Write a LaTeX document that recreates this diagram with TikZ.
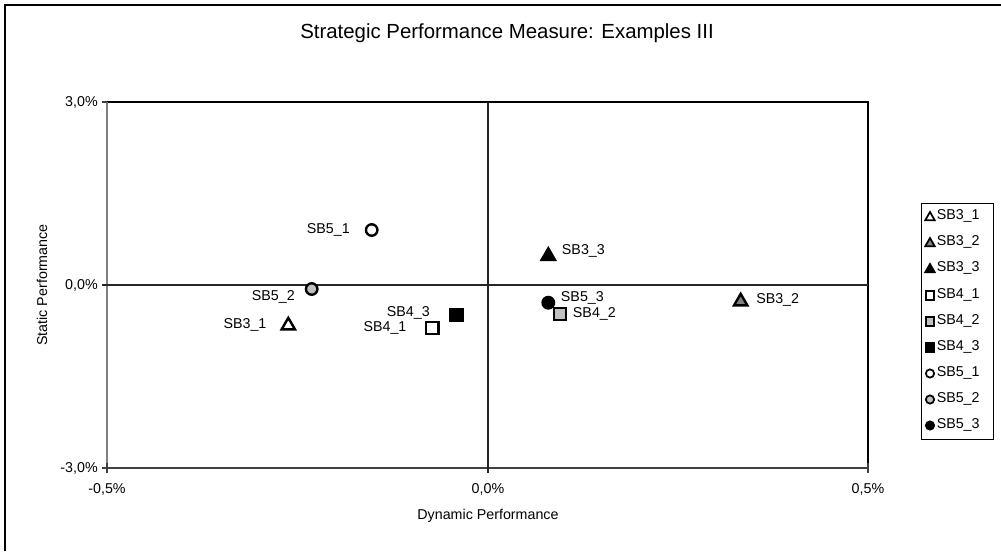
\documentclass[tikz,border=0pt]{standalone}
\usepackage{fontspec}
\setmainfont{Liberation Sans}
\usetikzlibrary{shapes.geometric}
\definecolor{ltgrey}{HTML}{C0C0C0}
\definecolor{mdgrey}{HTML}{808080}
\definecolor{axgrey}{HTML}{808080}
\definecolor{dkgrey}{HTML}{404040}
\begin{document}
\begin{tikzpicture}[x=0.75pt,y=-0.75pt,
  txt/.style={font=\fontsize{10.7}{12}\selectfont, inner sep=0pt},
  ttl/.style={font=\fontsize{15.3}{17}\selectfont, inner sep=0pt},
  mk/.style={draw=black, line width=1.8pt, inner sep=0pt},
  circmk/.style={mk, circle, minimum size=8.6pt},
  sqmk/.style={mk, rectangle, minimum size=9.2pt},
  trimk/.style={mk, regular polygon, regular polygon sides=3, minimum size=11.5pt},
  lmk/.style={draw=black, line width=1.3pt, inner sep=0pt},
  lcirc/.style={lmk, circle, minimum size=6.2pt},
  lsq/.style={lmk, rectangle, minimum size=6.4pt},
  ltri/.style={lmk, regular polygon, regular polygon sides=3, minimum size=8.2pt},
  frame/.style={line width=1.2pt, black},
  ax/.style={line width=1.1pt}
]
\useasboundingbox (0,0) rectangle (1001,551);
% outer chart frame (cropped)
\draw[frame] (5,551) -- (5,5) -- (1001,5);
% title
\node[ttl] (title) at (507,33) {Strategic Performance Measure: Examples III};
% plot area
\coordinate (tl) at (107,102);
\coordinate (tr) at (868,102);
\coordinate (bl) at (107,468);
\coordinate (br) at (868,468);
\draw[ax, black] (tl) -- (tr) -- (br);
\draw[ax, axgrey] (bl) -- (tl);
\draw[ax, dkgrey] (bl) -- (br);
% crosshair
\coordinate (hl) at (102,285);
\coordinate (hr) at (868,285);
\coordinate (vt) at (488,102);
\coordinate (vb) at (488,473);
\draw[line width=0.9pt, black!85] (hl) -- (hr);
\draw[line width=0.9pt, black!85] (vt) -- (vb);
% ticks
\coordinate (t1a) at (102,102); \coordinate (t1b) at (107,102);
\coordinate (t3a) at (102,468); \coordinate (t3b) at (107,468);
\coordinate (b1a) at (107,463); \coordinate (b1b) at (107,473);
\coordinate (b3a) at (868,463); \coordinate (b3b) at (868,473);
\draw[ax, dkgrey] (t1a) -- (t1b) (t3a) -- (t3b) (b1a) -- (b1b) (b3a) -- (b3b);
% tick labels
\node[txt, anchor=east] (y1) at (98,102) {3,0\%};
\node[txt, anchor=east] (y2) at (98,285) {0,0\%};
\node[txt, anchor=east] (y3) at (98,468) {-3,0\%};
\node[txt] (x1) at (107,489) {-0,5\%};
\node[txt] (x2) at (488,489) {0,0\%};
\node[txt] (x3) at (868,489) {0,5\%};
% axis titles
\node[txt] (xt) at (488,516) {Dynamic Performance};
\node[txt, rotate=90] (yt) at (42,285) {Static Performance};
% data markers
\node[circmk, fill=white] (p51) at (371.7,230) {};
\node[circmk, fill=ltgrey] (p52) at (311.7,289) {};
\node[trimk, fill=white] (p31) at (288.3,325.5) {};
\node[sqmk, fill=white] (p41) at (432.3,328) {};
\node[sqmk, fill=black] (p43) at (456.7,315) {};
\node[trimk, fill=black] (p33) at (548.3,256) {};
\node[circmk, fill=black] (p53) at (548.3,302.7) {};
\node[sqmk, fill=ltgrey] (p42) at (560,314) {};
\node[trimk, fill=mdgrey] (p32) at (740.7,301.5) {};
% data labels
\node[txt, anchor=east] (l51) at (350,230) {SB5\_1};
\node[txt, anchor=east] (l52) at (295,297) {SB5\_2};
\node[txt, anchor=east] (l31) at (266.7,325) {SB3\_1};
\node[txt, anchor=east] (l41) at (406.7,328) {SB4\_1};
\node[txt, anchor=east] (l43) at (430,313) {SB4\_3};
\node[txt, anchor=west] (l33) at (561.7,251) {SB3\_3};
\node[txt, anchor=west] (l53) at (560.7,298) {SB5\_3};
\node[txt, anchor=west] (l42) at (572.7,314) {SB4\_2};
\node[txt, anchor=west] (l32) at (756,300) {SB3\_2};
% legend
\node[draw=black, line width=0.8pt, minimum width=72.3*0.75pt, minimum height=236*0.75pt, inner sep=0pt, anchor=north west] (leg) at (920.7,203) {};
\node[ltri, fill=white]  (g1) at (930,217.5) {};
\node[ltri, fill=mdgrey] (g2) at (930,243.5) {};
\node[ltri, fill=black]  (g3) at (930,269.5) {};
\node[lsq, fill=white]   (g4) at (930,295.5) {};
\node[lsq, fill=ltgrey]  (g5) at (930,321.5) {};
\node[lsq, fill=black]   (g6) at (930,347.5) {};
\node[lcirc, fill=white] (g7) at (930,373.5) {};
\node[lcirc, fill=ltgrey](g8) at (930,399.5) {};
\node[lcirc, fill=black] (g9) at (930,425.5) {};
\node[txt, anchor=west] (e1) at (936.5,216) {SB3\_1};
\node[txt, anchor=west] (e2) at (936.5,242) {SB3\_2};
\node[txt, anchor=west] (e3) at (936.5,268) {SB3\_3};
\node[txt, anchor=west] (e4) at (936.5,295) {SB4\_1};
\node[txt, anchor=west] (e5) at (936.5,321) {SB4\_2};
\node[txt, anchor=west] (e6) at (936.5,347) {SB4\_3};
\node[txt, anchor=west] (e7) at (936.5,373) {SB5\_1};
\node[txt, anchor=west] (e8) at (936.5,399) {SB5\_2};
\node[txt, anchor=west] (e9) at (936.5,425) {SB5\_3};
\end{tikzpicture}
\end{document}
